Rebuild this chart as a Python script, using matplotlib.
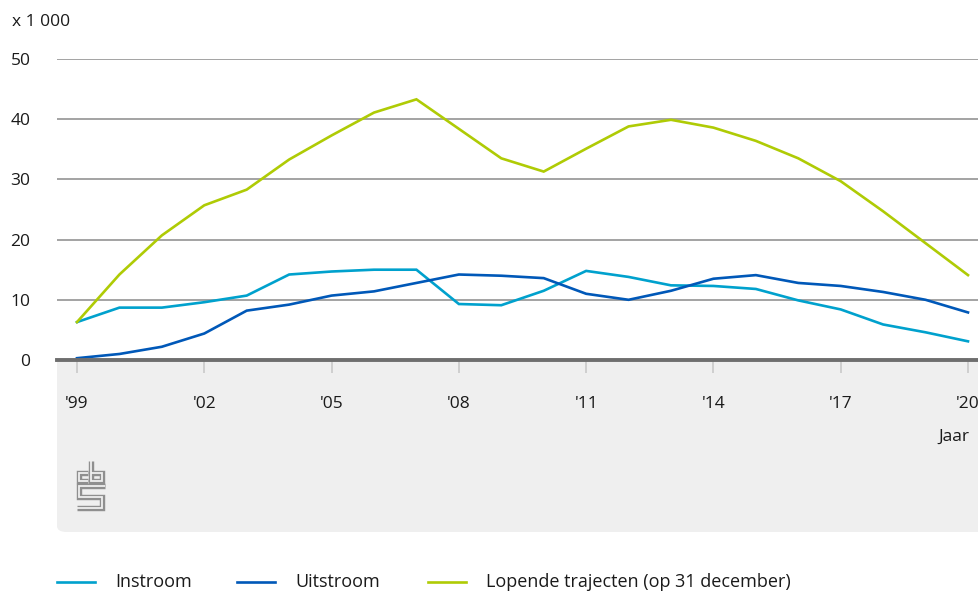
import matplotlib
matplotlib.use("Agg")
import matplotlib.pyplot as plt
from matplotlib.lines import Line2D
from matplotlib.patches import FancyBboxPatch
import matplotlib.patheffects as pe

# Gegevens (x 1 000)
jaren = list(range(1999, 2021))
instroom = [6.3, 8.7, 8.7, 9.6, 10.7, 14.2, 14.7, 15.0, 15.0, 9.3, 9.1,
            11.5, 14.8, 13.8, 12.4, 12.3, 11.8, 9.9, 8.4, 5.9, 4.6, 3.1]
uitstroom = [0.3, 1.0, 2.2, 4.4, 8.2, 9.2, 10.7, 11.4, 12.8, 14.2, 14.0,
             13.6, 11.0, 10.0, 11.5, 13.5, 14.1, 12.8, 12.3, 11.3, 10.0, 7.9]
lopend = [6.3, 14.2, 20.7, 25.7, 28.3, 33.3, 37.3, 41.1, 43.3, 38.4, 33.5,
          31.3, 35.1, 38.8, 39.9, 38.6, 36.4, 33.5, 29.7, 24.7, 19.4, 14.1]
tick_jaren = [1999, 2002, 2005, 2008, 2011, 2014, 2017, 2020]
tick_labels = ["'99", "'02", "'05", "'08", "'11", "'14", "'17", "'20"]
y_ticks = [0, 10, 20, 30, 40, 50]

series = [
    ("Instroom", instroom, "#00a1cd"),
    ("Uitstroom", uitstroom, "#0058b8"),
    ("Lopende trajecten (op 31 december)", lopend, "#afcb05"),
]

plt.rcParams["font.family"] = ["Open Sans", "DejaVu Sans"]
W, H = 979, 594
fig = plt.figure(figsize=(W / 100, H / 100), dpi=100)


def px(x, y):
    return (x / W, 1 - y / H)


# grijze band onder de x-as
band = FancyBboxPatch(px(57, 532), (W + 60 - 57) / W, (532 - 350) / H,
                      boxstyle="round,pad=0,rounding_size=0.01",
                      transform=fig.transFigure, facecolor="#efefef",
                      edgecolor="none", zorder=-5)
fig.patches.append(band)

ax = fig.add_axes([57 / W, (H - 360) / H, (W - 57) / W, (360 - 59) / H])
ax.patch.set_facecolor("white")

for naam, waarden, kleur in series:
    ax.plot(jaren, waarden, color=kleur, lw=1.9, label=naam, zorder=3,
            solid_joinstyle="miter")

ax.set_xlim(1999 - 20 / 42.43, 2020 + 11 / 42.43)
ax.set_ylim(0, 50)
ax.set_yticks(y_ticks)
ax.set_yticklabels([str(v) for v in y_ticks])
ax.grid(axis="y", color="#8a8a8a", lw=1.1, zorder=1)
ax.set_axisbelow(True)
for s in ["top", "right", "left"]:
    ax.spines[s].set_visible(False)
ax.spines["bottom"].set_color("#6e6e6e")
ax.spines["bottom"].set_linewidth(2.8)
ax.spines["bottom"].set_zorder(4)

ax.set_xticks(tick_jaren)
ax.set_xticklabels(tick_labels)
ax.tick_params(axis="x", direction="out", length=9, width=1.3,
               color="#cccccc", pad=17, labelsize=12.5, labelcolor="#1a1a1a")
ax.tick_params(axis="y", length=0, pad=19, labelsize=12.5,
               labelcolor="#1a1a1a")

fig.text(*px(12, 22), "x 1 000", fontsize=12.5, color="#1a1a1a",
         ha="left", va="center")
fig.text(*px(969, 437), "Jaar", fontsize=12.5, color="#1a1a1a",
         ha="right", va="center")

# cbs-logo
grijs = "#8f8f8f"
logo = [
    [(88, 472.5), (78.5, 472.5), (78.5, 480.5), (88, 480.5)],
    [(91, 461), (91, 480.5), (102.5, 480.5), (102.5, 472.5), (91, 472.5)],
    [(105, 485.5), (78.5, 485.5), (78.5, 496.5), (102.5, 496.5),
     (102.5, 507.5), (77, 507.5)],
]
for pad in logo:
    xs = [px(x, y)[0] for x, y in pad]
    ys = [px(x, y)[1] for x, y in pad]
    ln = Line2D(xs, ys, transform=fig.transFigure, color="#efefef", lw=1.3,
                solid_joinstyle="miter", solid_capstyle="butt",
                path_effects=[pe.Stroke(linewidth=3.9, foreground=grijs),
                              pe.Normal()])
    fig.add_artist(ln)

# legenda
leg_x = [57, 237, 428]
for (naam, _, kleur), x0 in zip(series, leg_x):
    fig.add_artist(Line2D([px(x0, 0)[0], px(x0 + 38, 0)[0]],
                          [px(0, 582)[1]] * 2, transform=fig.transFigure,
                          color=kleur, lw=1.9))
    fig.text(*px(x0 + 58, 582), naam, fontsize=13, color="#1a1a1a",
             ha="left", va="center")

fig.savefig("out.png", dpi=100)
